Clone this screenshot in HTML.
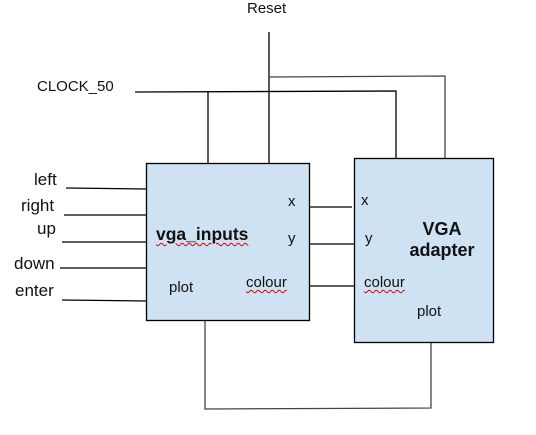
<!DOCTYPE html>
<html><head><style>
html,body{margin:0;padding:0;background:#fff;}
body{width:536px;height:435px;position:relative;overflow:hidden;font-family:"Liberation Sans",Arial,sans-serif;}
.t{position:absolute;color:#111;white-space:nowrap;}
.sq{text-decoration:underline wavy #d00;text-decoration-thickness:1px;text-underline-offset:2px;}
</style></head><body>
<svg width="536" height="435" style="position:absolute;left:0;top:0">
<g stroke="#000" stroke-width="1.3" fill="none">
<line x1="269" y1="32" x2="269" y2="163"/>
<polyline points="269,77 445,76 445,158" stroke="#444"/>
<polyline points="135,92 396,91 396,158"/>
<line x1="208" y1="92" x2="208" y2="163"/>
<line x1="66" y1="188" x2="146" y2="189"/>
<line x1="64" y1="215" x2="146" y2="215"/>
<line x1="62" y1="242" x2="146" y2="242"/>
<line x1="60" y1="268" x2="148" y2="268"/>
<line x1="62" y1="300" x2="146" y2="301"/>
<line x1="310" y1="207" x2="352" y2="207"/>
<line x1="310" y1="244" x2="356" y2="244"/>
<line x1="309" y1="286" x2="354" y2="286"/>
<polyline points="205,319 205,409 431,408 431,343" stroke="#444"/>
</g>
<rect x="146.5" y="163.5" width="163" height="157" fill="#cfe2f3" stroke="#000" stroke-width="1.3"/>
<rect x="354.5" y="158.5" width="139" height="184" fill="#cfe2f3" stroke="#000" stroke-width="1.3"/>
</svg>
<div class="t" style="left:247px;top:0px;font-size:15px">Reset</div>
<div class="t" style="left:37px;top:78px;font-size:15px">CLOCK_50</div>
<div class="t" style="left:34px;top:170px;font-size:17px">left</div>
<div class="t" style="left:21px;top:196px;font-size:17px">right</div>
<div class="t" style="left:37px;top:219px;font-size:17px">up</div>
<div class="t" style="left:14px;top:254px;font-size:17px">down</div>
<div class="t" style="left:15px;top:281px;font-size:17px">enter</div>
<div class="t sq" style="left:156px;top:224px;font-size:17.5px;font-weight:bold">vga_inputs</div>
<div class="t" style="left:288px;top:193px;font-size:15px">x</div>
<div class="t" style="left:288px;top:230px;font-size:15px">y</div>
<div class="t sq" style="left:246px;top:274px;font-size:15px">colour</div>
<div class="t" style="left:169px;top:279px;font-size:15px">plot</div>
<div class="t" style="left:361px;top:192px;font-size:15px">x</div>
<div class="t" style="left:365px;top:230px;font-size:15px">y</div>
<div class="t sq" style="left:364px;top:274px;font-size:15px">colour</div>
<div class="t" style="left:417px;top:303px;font-size:15px">plot</div>
<div class="t" style="left:397px;top:219px;width:90px;text-align:center;font-size:18px;font-weight:bold;line-height:21px">VGA<br>adapter</div>
</body></html>
